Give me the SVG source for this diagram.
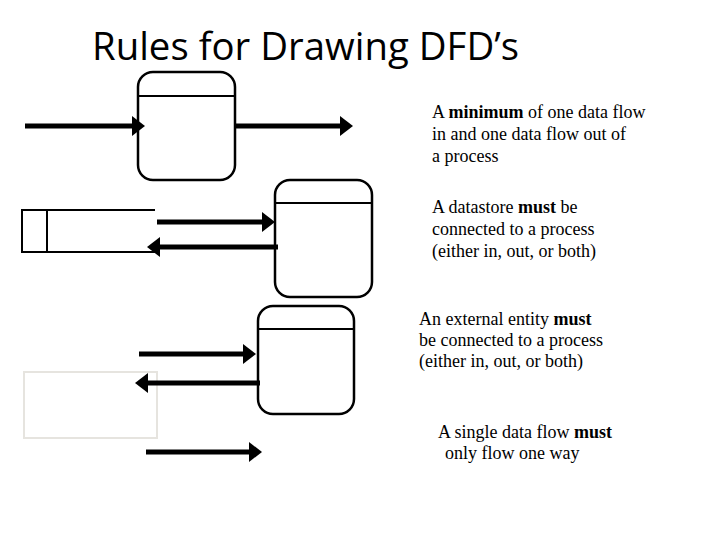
<svg xmlns="http://www.w3.org/2000/svg" width="720" height="540" viewBox="0 0 720 540">
<defs>
<marker id="ah" markerWidth="4" markerHeight="4" refX="0" refY="2" orient="auto" markerUnits="strokeWidth">
<path d="M0,0 L2.6,2 L0,4 Z" fill="#000"/>
</marker>
<style>
.proc{fill:#fff;stroke:#000;stroke-width:2.5}
.div{stroke:#000;stroke-width:2}
.flow{stroke:#000;stroke-width:5;fill:none;marker-end:url(#ah)}
.txt{font-family:"Liberation Serif","Times New Roman",serif;font-size:18px;fill:#000}
.title{font-family:"Open Sans","Liberation Sans",sans-serif;font-size:38px;fill:#000}
</style>
</defs>
<rect width="720" height="540" fill="#fff"/>
<text class="title" x="92" y="60" textLength="427" lengthAdjust="spacingAndGlyphs">Rules for Drawing DFD’s</text>

<g id="process1">
<rect class="proc" x="138" y="72" width="97" height="108" rx="15"/>
<line class="div" x1="139" y1="96" x2="234" y2="96"/>
</g>
<g id="process2">
<rect class="proc" x="275" y="180" width="97" height="117" rx="15"/>
<line class="div" x1="276" y1="203" x2="371" y2="203"/>
</g>
<g id="process3">
<rect class="proc" x="258" y="306" width="96" height="108" rx="15"/>
<line class="div" x1="259" y1="329" x2="353" y2="329"/>
</g>
<g id="datastore">
<path d="M155,210 H22 V252 H155 M47,210 V252" fill="none" stroke="#000" stroke-width="2"/>
</g>
<g id="entity">
<rect x="24" y="372" width="133" height="66" fill="#fff" stroke="#e6e4df" stroke-width="2"/>
</g>

<g id="connectors">
<line class="flow" x1="25" y1="126" x2="132" y2="126"/>
<line class="flow" x1="236" y1="126" x2="340" y2="126"/>
<line class="flow" x1="157" y1="222" x2="262" y2="222"/>
<line class="flow" x1="278" y1="247" x2="160" y2="247"/>
<line class="flow" x1="139" y1="354" x2="243" y2="354"/>
<line class="flow" x1="260" y1="383" x2="148" y2="383"/>
<line class="flow" x1="146" y1="452" x2="249" y2="452"/>
</g>

<g id="labels">
<text class="txt" x="432" y="118">A <tspan font-weight="bold">minimum</tspan> of one data flow</text>
<text class="txt" x="432" y="140">in and one data flow out of</text>
<text class="txt" x="432" y="162">a process</text>
<text class="txt" x="432" y="213">A datastore <tspan font-weight="bold">must</tspan> be</text>
<text class="txt" x="432" y="235">connected to a process</text>
<text class="txt" x="432" y="257">(either in, out, or both)</text>
<text class="txt" x="419" y="325">An external entity <tspan font-weight="bold">must</tspan></text>
<text class="txt" x="419" y="346">be connected to a process</text>
<text class="txt" x="419" y="367">(either in, out, or both)</text>
<text class="txt" x="438" y="438">A single data flow <tspan font-weight="bold">must</tspan></text>
<text class="txt" x="445" y="459">only flow one way</text>
</g>
</svg>
